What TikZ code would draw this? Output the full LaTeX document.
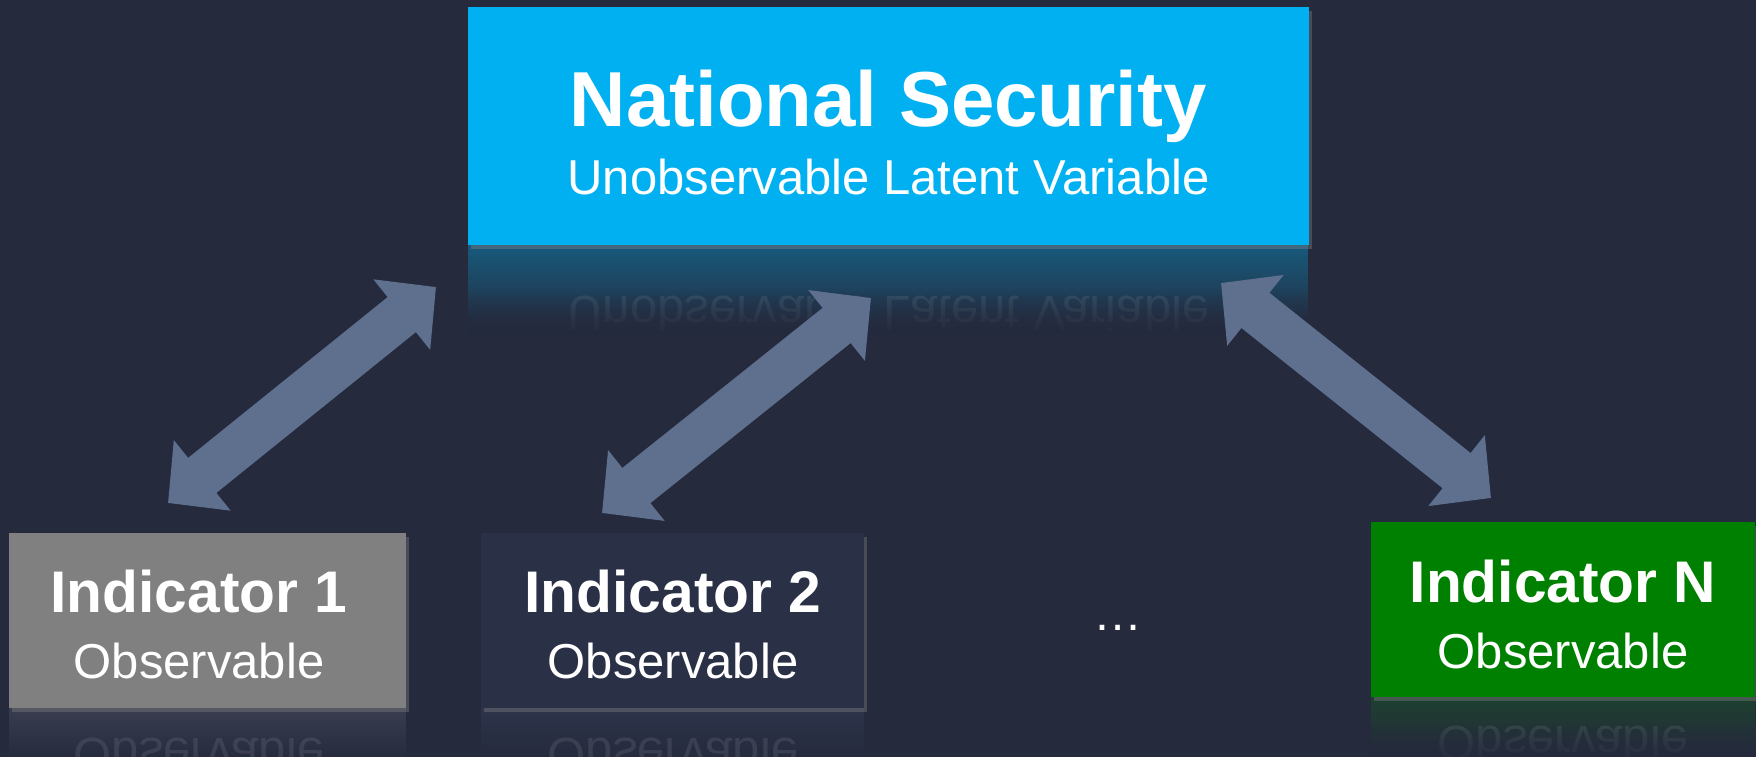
\documentclass[tikz,border=0pt]{standalone}
\usepackage{fontspec}
\setmainfont{Liberation Sans}
\usetikzlibrary{arrows.meta,shadows,fadings}
\definecolor{bgc}{RGB}{37,42,61}
\definecolor{topc}{RGB}{0,176,240}
\definecolor{grayc}{RGB}{128,128,128}
\definecolor{navyc}{RGB}{42,48,70}
\definecolor{greenc}{RGB}{0,128,0}
\definecolor{arrowc}{RGB}{95,112,143}
\definecolor{reflblue}{RGB}{24,90,124}
\definecolor{reflgray}{RGB}{58,62,80}
\definecolor{reflnavy}{RGB}{46,52,74}
\definecolor{reflgreen}{RGB}{30,64,48}
\tikzfading[name=fadedown, top color=transparent!0, bottom color=transparent!100]
\tikzfading[name=fadeup, top color=transparent!100, bottom color=transparent!0]
\begin{document}
\begin{tikzpicture}[x=1pt,y=-1pt,
  panel/.style={draw=none, inner sep=0pt, drop shadow={shadow xshift=3pt, shadow yshift=-4pt, opacity=0.4}},
  headtxt/.style={anchor=base, inner sep=0pt, text=white, font=\bfseries\fontsize{#1}{#1}\selectfont},
  subtxt/.style={anchor=base, inner sep=0pt, text=white, font=\fontsize{49}{49}\selectfont},
  refltxt/.style={anchor=base, inner sep=0pt, text=white, opacity=0.09, transform shape, font=\fontsize{49}{49}\selectfont},
  refl/.style={fill=#1, path fading=fadedown},
  veil/.style={fill=bgc, path fading=fadeup},
  biarrow/.style={draw=arrowc, line width=45pt,
    {Triangle[length=44pt,width=88pt]}-{Triangle[length=44pt,width=88pt]}}
]
\useasboundingbox (0,0) rectangle (1756,757);
\clip (0,0) rectangle (1756,757);
% background
\fill[bgc] (0,0) rectangle (1756,757);

% reflections
\fill[refl=reflblue] (468,245) rectangle (1309,335);
\begin{scope}[shift={(888.5,296)}, yscale=-1]
  \node[refltxt] (rs) at (0,0) {Unobservable Latent Variable};
\end{scope}
\fill[veil] (468,290) rectangle (1309,336);
\fill[refl=reflgray] (9,708) rectangle (406,760);
\begin{scope}[shift={(199,738)}, yscale=-1]
  \node[refltxt] (r1) at (0,0) {Observable};
\end{scope}
\fill[refl=reflnavy] (481,708) rectangle (864,760);
\begin{scope}[shift={(673,738)}, yscale=-1]
  \node[refltxt] (r2) at (0,0) {Observable};
\end{scope}
\fill[refl=reflgreen] (1371,697) rectangle (1755,760);
\begin{scope}[shift={(1563,726)}, yscale=-1]
  \node[refltxt] (rn) at (0,0) {Observable};
\end{scope}
\fill[veil] (1371,722) rectangle (1755,764);

% boxes
\node[panel, fill=topc, minimum width=841pt, minimum height=238pt] (ns) at (888.5,126) {};
\node[panel, fill=grayc, minimum width=397pt, minimum height=175pt] (i1) at (207.5,620.5) {};
\node[panel, fill=navyc, minimum width=383pt, minimum height=175pt] (i2) at (672.5,620.5) {};
\node[panel, fill=greenc, minimum width=384pt, minimum height=175pt] (iN) at (1563,609.5) {};

% texts
\node[headtxt=78] (nst) at (888.5,127) {National Security};
\node[subtxt] (nss) at (888.5,194) {Unobservable Latent Variable};
\node[headtxt=58.7] (i1t) at (199,612) {Indicator 1};
\node[subtxt] (i1s) at (199,678) {Observable};
\node[headtxt=58.7] (i2t) at (673,612) {Indicator 2};
\node[subtxt] (i2s) at (673,678) {Observable};
\node[headtxt=58.7] (iNt) at (1563,602) {Indicator N};
\node[subtxt] (iNs) at (1563,668) {Observable};
\node[subtxt] (dots) at (1118,630) {…};

% arrows
\coordinate (a1b) at (168,503);
\coordinate (a1t) at (436,287);
\coordinate (a2b) at (602,513);
\coordinate (a2t) at (871,298);
\coordinate (a3t) at (1221,283);
\coordinate (a3b) at (1491,498);
\draw[biarrow] (a1b) -- (a1t);
\draw[biarrow] (a2b) -- (a2t);
\draw[biarrow] (a3t) -- (a3b);
\end{tikzpicture}
\end{document}
